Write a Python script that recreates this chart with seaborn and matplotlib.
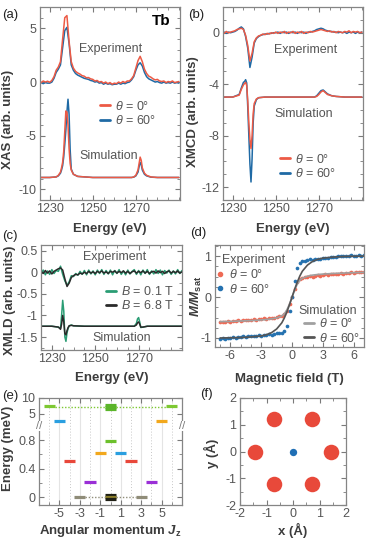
import numpy as np
import matplotlib
matplotlib.use('Agg')
import matplotlib.pyplot as plt
import matplotlib.transforms as mtransforms
from matplotlib.lines import Line2D
from matplotlib.ticker import MultipleLocator, FixedLocator
import seaborn as sns

# ── data ─────────────────────────────────────────────────────────────────────

energy = list(range(1225, 1291))          # measured energy grid (eV)

xas_exp_0 = [0.05, -0.05, 0.1, 0.0, 0.08, -0.02, 0.15, 0.5, 1.1, 1.4, 1.9, 4.0, 6.0, 6.2, 3.8, 1.9,
             1.3, 1.0, 0.85, 0.75, 0.6, 0.55, 0.4, 0.42, 0.3, 0.25, 0.1, 0.15, 0.0, 0.05, -0.1, 0.0,
             -0.15, -0.05, -0.2, -0.1, -0.15, 0.0, -0.1, 0.05, -0.05, 0.1, 0.1, 0.3, 0.6, 1.3, 2.0, 2.4,
             1.9, 1.2, 0.8, 0.55, 0.45, 0.3, 0.2, 0.25, 0.1, 0.05, 0.1, -0.05, 0.05, 0.0, 0.1, -0.05,
             0.0, 0.05]
xas_exp_60 = [-0.1, -0.05, -0.15, -0.05, -0.1, -0.1, 0.0, 0.35, 0.9, 1.2, 1.6, 3.2, 4.8, 5.1, 3.6, 1.6,
              1.1, 0.8, 0.65, 0.55, 0.45, 0.35, 0.3, 0.25, 0.15, 0.1, 0.0, 0.05, -0.1, -0.05, -0.2, -0.1,
              -0.2, -0.15, -0.25, -0.2, -0.2, -0.1, -0.2, -0.1, -0.15, -0.05, 0.0, 0.2, 0.5, 1.1, 1.6, 1.8,
              1.5, 0.9, 0.5, 0.3, 0.2, 0.1, 0.0, 0.05, -0.05, -0.1, 0.0, -0.1, -0.05, -0.1, 0.0, -0.1,
              -0.05, -0.1]
xas_sim_e = [1225, 1230, 1233, 1234, 1235, 1235.5, 1236, 1236.5, 1237, 1237.5, 1238, 1238.5, 1239,
             1239.5, 1240, 1241, 1243, 1250, 1260, 1268, 1269, 1270, 1271, 1271.5, 1272, 1272.5,
             1273, 1274, 1275, 1277, 1280, 1290]
xas_sim_0 = [-8.9, -8.9, -8.85, -8.7, -8.4, -8.0, -7.5, -6.5, -4.6, -2.7, -2.8, -4.0, -6.2, -7.6, -8.2,
             -8.6, -8.8, -8.9, -8.9, -8.9, -8.85, -8.7, -8.2, -7.6, -7.0, -7.3, -8.0, -8.5, -8.7, -8.85,
             -8.9, -8.9]
xas_sim_60 = [-8.9, -8.9, -8.85, -8.75, -8.5, -8.2, -7.8, -7.0, -5.8, -4.5, -2.8, -1.6, -3.0, -6.3,
              -8.1, -8.6, -8.8, -8.9, -8.9, -8.9, -8.87, -8.75, -8.4, -7.9, -7.5, -7.7, -8.2, -8.6,
              -8.75, -8.87, -8.9, -8.9]

xmcd_exp_0 = [0.05, -0.05, 0.1, 0.0, 0.05, 0.1, 0.15, 0.25, 0.3, 0.35, 0.25, -0.2, -1.0, -2.2, -1.6, -0.7,
              -0.4, -0.25, -0.2, -0.1, -0.15, -0.05, -0.1, 0.0, -0.05, 0.05, -0.05, 0.05, 0.0, 0.1, -0.05,
              0.05, 0.0, 0.1, -0.05, 0.05, 0.0, 0.1, -0.05, 0.05, 0.0, 0.1, 0.05, 0.1, 0.15, 0.2, 0.25,
              0.2, 0.15, 0.1, 0.15, 0.05, 0.1, 0.0, 0.1, 0.05, 0.0, 0.1, 0.05, 0.15, 0.0, 0.1, 0.05, 0.1,
              0.0, 0.05]
xmcd_exp_60 = [0.0, 0.05, -0.05, 0.05, 0.0, 0.05, 0.1, 0.2, 0.35, 0.45, 0.3, -0.3, -1.2, -2.7, -1.9, -0.8,
               -0.45, -0.3, -0.2, -0.15, -0.1, -0.1, -0.05, -0.05, 0.0, 0.0, 0.05, -0.05, 0.05, 0.0, 0.05,
               -0.05, 0.05, 0.0, 0.05, -0.05, 0.05, 0.0, 0.05, -0.05, 0.05, 0.05, 0.1, 0.15, 0.25, 0.3,
               0.35, 0.3, 0.2, 0.15, 0.1, 0.1, 0.05, 0.05, 0.0, 0.05, 0.0, 0.05, -0.05, 0.05, 0.0, 0.05,
               -0.05, 0.05, 0.0, 0.05]
xmcd_sim_e = [1225, 1230, 1233, 1234, 1235, 1235.5, 1236, 1236.5, 1237, 1237.5, 1238, 1238.5, 1239,
              1239.5, 1240, 1241, 1242, 1245, 1260, 1268, 1269, 1270, 1271, 1272, 1273, 1274, 1276,
              1278, 1282, 1290]
xmcd_sim_0 = [-5.0, -5.0, -4.85, -4.4, -4.05, -3.95, -3.85, -4.1, -5.3, -7.0, -8.3, -9.0, -8.0, -6.3,
              -5.5, -5.15, -5.05, -5.0, -5.0, -5.0, -4.95, -4.8, -4.6, -4.5, -4.65, -4.8, -4.9, -4.95,
              -5.0, -5.0]
xmcd_sim_60 = [-5.0, -5.0, -4.8, -4.3, -3.85, -3.8, -3.65, -3.9, -5.8, -8.0, -10.2, -11.6, -9.8, -7.0,
               -5.7, -5.2, -5.05, -5.0, -5.0, -5.0, -4.9, -4.7, -4.5, -4.45, -4.6, -4.75, -4.9, -4.95,
               -5.0, -5.0]

xmld_exp_01 = [-0.04, 0.05, -0.06, 0.03, -0.05, 0.06, -0.03, 0.04, 0.02, 0.14, -0.05, -0.2, -0.3, -0.22,
               -0.08, -0.1, -0.03, -0.07, 0.02, -0.05, 0.04, -0.06, 0.05, -0.04, 0.03, -0.06, 0.05, -0.03,
               0.06, -0.05, 0.04, -0.04, 0.05, -0.06, 0.04, -0.03, 0.06, -0.05, 0.03, -0.06, 0.05, -0.04,
               0.02, 0.06, -0.05, 0.04, -0.06, 0.05, -0.03, 0.06, -0.05, 0.03, -0.04, 0.06, -0.03, 0.05,
               -0.06, 0.04, -0.02, 0.05, -0.05, 0.03, -0.04, 0.06, -0.03, 0.04]
xmld_exp_68 = [0.02, -0.03, 0.04, -0.02, 0.03, -0.04, 0.02, 0.05, 0.08, 0.1, 0.05, -0.15, -0.33, -0.25,
               -0.12, -0.08, -0.05, -0.06, -0.02, -0.04, 0.0, -0.03, 0.02, -0.02, 0.01, -0.03, 0.02, -0.01,
               0.03, -0.02, 0.01, -0.03, 0.02, 0.0, 0.03, -0.02, 0.02, -0.01, 0.03, -0.02, 0.02, -0.03,
               0.01, 0.03, -0.02, 0.02, -0.01, 0.03, -0.02, 0.02, -0.03, 0.01, 0.02, -0.02, 0.03, -0.01,
               0.02, -0.03, 0.01, 0.03, -0.02, 0.02, -0.01, 0.03, -0.02, 0.01]
xmld_sim_e = [1225, 1230, 1233, 1234, 1234.5, 1235, 1235.5, 1236, 1236.5, 1237, 1237.5, 1238, 1239,
              1240, 1245, 1260, 1268, 1269, 1269.5, 1270, 1270.5, 1271, 1272, 1274, 1280, 1290]
xmld_sim_01 = [-1.25, -1.25, -1.27, -1.3, -1.0, -0.65, -0.9, -1.5, -1.6, -1.4, -1.3, -1.24, -1.22, -1.24,
               -1.25, -1.25, -1.25, -1.18, -1.08, -1.05, -1.15, -1.28, -1.27, -1.25, -1.25, -1.25]
xmld_sim_68 = [-1.25, -1.25, -1.27, -1.32, -1.2, -1.0, -1.15, -1.42, -1.45, -1.35, -1.28, -1.24, -1.23,
               -1.24, -1.25, -1.25, -1.25, -1.22, -1.17, -1.15, -1.2, -1.27, -1.27, -1.25, -1.25, -1.25]

field = [-7, -6.75, -6.5, -6.25, -6, -5.75, -5.5, -5.25, -5, -4.75, -4.5, -4.25, -4, -3.75, -3.5, -3.25,
         -3, -2.75, -2.5, -2.25, -2, -1.75, -1.5, -1.25, -1, -0.75, -0.5, -0.25, 0, 0.25, 0.5, 0.75, 1,
         1.25, 1.5, 1.75, 2, 2.25, 2.5, 2.75, 3, 3.25, 3.5, 3.75, 4, 4.25, 4.5, 4.75, 5, 5.25, 5.5, 5.75,
         6, 6.25, 6.5, 6.75, 7]
m_exp_0 = [-0.62, -0.60, -0.61, -0.59, -0.60, -0.58, -0.59, -0.57, -0.58, -0.56, -0.57, -0.55, -0.56,
           -0.54, -0.55, -0.53, -0.54, -0.52, -0.53, -0.51, -0.52, -0.50, -0.49, -0.47, -0.46, -0.42,
           -0.33, -0.18, 0.0, 0.2, 0.36, 0.43, 0.46, 0.48, 0.49, 0.51, 0.50, 0.52, 0.53, 0.52, 0.54,
           0.55, 0.54, 0.56, 0.55, 0.57, 0.56, 0.58, 0.57, 0.59, 0.58, 0.60, 0.59, 0.61, 0.60, 0.61, 0.60]
m_exp_60 = [-1.03, -1.0, -1.02, -0.99, -1.0, -0.98, -1.0, -0.97, -0.98, -0.96, -0.97, -0.95, -0.96,
            -0.94, -0.95, -0.93, -0.94, -0.92, -0.93, -0.91, -0.92, -0.90, -0.89, -0.88, -0.87, -0.84,
            -0.70, -0.35, 0.0, 0.4, 0.72, 0.84, 0.87, 0.89, 0.90, 0.92, 0.91, 0.93, 0.94, 0.93, 0.95,
            0.96, 0.95, 0.97, 0.98, 0.97, 0.99, 1.0, 0.99, 1.01, 1.0, 1.02, 1.0, 1.01, 1.03, 1.01, 1.02]
field_sim = [-7, -6, -5, -4, -3, -2.5, -2, -1.5, -1, -0.75, -0.5, -0.25, 0, 0.25, 0.5, 0.75, 1, 1.5, 2,
             2.5, 3, 4, 5, 6, 7]
m_sim_0 = [-0.60, -0.595, -0.585, -0.575, -0.56, -0.55, -0.535, -0.51, -0.46, -0.41, -0.31, -0.17, 0.0,
           0.17, 0.31, 0.41, 0.46, 0.51, 0.535, 0.55, 0.56, 0.575, 0.585, 0.595, 0.60]
m_sim_60 = [-1.0, -0.995, -0.99, -0.975, -0.95, -0.92, -0.87, -0.78, -0.63, -0.51, -0.36, -0.19, 0.0,
            0.19, 0.36, 0.51, 0.63, 0.78, 0.87, 0.92, 0.95, 0.975, 0.99, 0.995, 1.0]

# crystal-field levels: Jz, energy (meV), colour
level_jz = [-6, 6, 0, 0, 0, -5, 5, 0, -1, 1, -4, 2, -2, 4, -3, 3, 0, 0, 0]
level_e = [7.3, 7.3, 7.6, 7.0, 6.4, 2.6, 2.6, 0.79, 0.62, 0.62, 0.51, 0.51, 0.21, 0.21, 0.0, 0.0,
           0.025, 0.0, -0.025]
level_col = ['#7dc832', '#7dc832', '#5bb52a', '#5bb52a', '#5bb52a', '#2a9fe0', '#f2a81d', '#6cc02c',
             '#f2a81d', '#2a9fe0', '#e8473a', '#e8473a', '#9a2fd6', '#9a2fd6', '#8f8c78', '#8f8c78',
             '#1e1e14', '#8a7d2a', '#1e1e14']
link_from = [-5.45, 0.55, -2.45, 0.55]
link_to = [-0.55, 5.45, -0.55, 2.45]
link_e = [7.0, 7.0, 0.0, 0.0]
link_col = ['#7dc832', '#7dc832', '#8f8c78', '#8f8c78']

# ligand positions around Tb (Å)
lig_x = [-0.7, 0.7, -1.42, 1.42, -0.7, 0.7]
lig_y = [1.22, 1.22, 0.0, 0.0, -1.22, -1.22]
tb_x = [0.0]
tb_y = [0.0]

# ── style ────────────────────────────────────────────────────────────────────

sns.set_theme(style='ticks')
plt.rcParams.update({
    'font.family': ['Liberation Sans', 'DejaVu Sans'],
    'mathtext.fontset': 'custom',
    'mathtext.rm': 'Liberation Sans',
    'mathtext.it': 'Liberation Sans:italic',
    'mathtext.bf': 'Liberation Sans:bold',
    'mathtext.bfit': 'Liberation Sans:italic:bold',
    'axes.linewidth': 0.9,
    'axes.unicode_minus': False,
})

RED = '#ec5a45'
BLUE = '#1f6aa5'
GREEN = '#2a9d74'
BLACK = '#2a2a2a'
TXT = '#555555'
LAB = '#3c3c3c'
FS = 9

W, H = 366, 538
fig = plt.figure(figsize=(W / 100, H / 100), dpi=100)


def rect(x0, y0, x1, y1):
    return [x0 / W, 1 - y1 / H, (x1 - x0) / W, (y1 - y0) / H]


def style(ax, xmaj, xmin, ymaj, ymin):
    ax.tick_params(which='both', direction='in', top=True, right=True, colors='#7a7a7a',
                   labelcolor=TXT, labelsize=FS, pad=2.5)
    ax.tick_params(which='major', length=3.5, width=0.8)
    ax.tick_params(which='minor', length=2, width=0.6)
    for s in ax.spines.values():
        s.set_color('#858585')
    if xmaj:
        ax.xaxis.set_major_locator(MultipleLocator(xmaj))
        ax.xaxis.set_minor_locator(MultipleLocator(xmin))
    if ymaj:
        ax.yaxis.set_major_locator(MultipleLocator(ymaj))
        ax.yaxis.set_minor_locator(MultipleLocator(ymin))


def labels(ax, xl, yl, xc, yc):
    ax.set_xlabel(xl, fontsize=FS + 0.5, fontweight='bold', color=LAB)
    ax.set_ylabel(yl, fontsize=FS + 0.5, fontweight='bold', color=LAB)
    ax.xaxis.set_label_coords(0.5, xc)
    ax.yaxis.set_label_coords(yc[0], yc[1])


def line_legend(ax, cols, labs, anchor):
    hs = [Line2D([], [], color=c, lw=2) for c in cols]
    leg = ax.legend(hs, labs, loc='upper left', bbox_to_anchor=anchor, frameon=False, fontsize=FS,
                    handlelength=0.8, handletextpad=0.4, labelspacing=0.1, borderpad=0, borderaxespad=0)
    for t in leg.get_texts():
        t.set_color(TXT)
    return leg


def note(ax, x, y, s):
    ax.text(x, y, s, fontsize=FS, color=TXT, ha='center', va='center')


# ── (a) XAS ──────────────────────────────────────────────────────────────────
ax = fig.add_axes(rect(40, 7, 180, 200))
sns.lineplot(x=energy, y=xas_exp_60, ax=ax, color=BLUE, lw=1.1)
sns.lineplot(x=energy, y=xas_exp_0, ax=ax, color=RED, lw=1.1)
sns.lineplot(x=xas_sim_e, y=xas_sim_60, ax=ax, color=BLUE, lw=1.1)
sns.lineplot(x=xas_sim_e, y=xas_sim_0, ax=ax, color=RED, lw=1.1)
ax.set_xlim(1225.5, 1290.5)
ax.set_ylim(-11, 7)
style(ax, 20, 5, 5, 1)
ax.set_xticks([1230, 1250, 1270])
labels(ax, 'Energy (eV)', 'XAS (arb. units)', -0.12, (-0.185, 0.42))
note(ax, 1258.5, 3.1, 'Experiment')
note(ax, 1257.5, -6.9, 'Simulation')
ax.text(0.93, 0.93, 'Tb', transform=ax.transAxes, fontsize=FS + 2, fontweight='bold', ha='right',
        va='center', color='black')
line_legend(ax, [RED, BLUE], [r'$\theta$ = 0°', r'$\theta$ = 60°'], (0.43, 0.52))

# ── (b) XMCD ─────────────────────────────────────────────────────────────────
ax = fig.add_axes(rect(223, 7, 363, 200))
sns.lineplot(x=energy, y=xmcd_exp_60, ax=ax, color=BLUE, lw=1.1)
sns.lineplot(x=energy, y=xmcd_exp_0, ax=ax, color=RED, lw=1.1)
sns.lineplot(x=xmcd_sim_e, y=xmcd_sim_60, ax=ax, color=BLUE, lw=1.1)
sns.lineplot(x=xmcd_sim_e, y=xmcd_sim_0, ax=ax, color=RED, lw=1.1)
ax.set_xlim(1225.5, 1290.5)
ax.set_ylim(-13, 2)
style(ax, 20, 5, 4, 1)
ax.set_xticks([1230, 1250, 1270])
labels(ax, 'Energy (eV)', 'XMCD (arb. units)', -0.12, (-0.17, 0.46))
note(ax, 1264, -1.35, 'Experiment')
note(ax, 1263, -6.3, 'Simulation')
line_legend(ax, [RED, BLUE], [r'$\theta$ = 0°', r'$\theta$ = 60°'], (0.41, 0.245))

# ── (c) XMLD ─────────────────────────────────────────────────────────────────
ax = fig.add_axes(rect(41, 245, 182, 350))
sns.lineplot(x=energy, y=xmld_exp_01, ax=ax, color=GREEN, lw=1.1)
sns.lineplot(x=energy, y=xmld_exp_68, ax=ax, color=BLACK, lw=1.1)
sns.lineplot(x=xmld_sim_e, y=xmld_sim_01, ax=ax, color=GREEN, lw=1.1)
sns.lineplot(x=xmld_sim_e, y=xmld_sim_68, ax=ax, color=BLACK, lw=1.1)
ax.set_xlim(1225, 1290)
ax.set_ylim(-1.8, 0.63)
style(ax, 20, 5, 0.5, 0.25)
ax.set_xticks([1230, 1250, 1270])
ax.set_yticks([0.5, 0, -0.5, -1, -1.5], ['0.5', '0', '-0.5', '-1', '-1.5'])
labels(ax, 'Energy (eV)', 'XMLD (arb. units)', -0.21, (-0.177, 0.47))
note(ax, 1259, 0.35, 'Experiment')
note(ax, 1262, -1.53, 'Simulation')
line_legend(ax, [GREEN, BLACK], [r'$B$ = 0.1 T', r'$B$ = 6.8 T'], (0.46, 0.62))

# ── (d) magnetisation ────────────────────────────────────────────────────────
ax = fig.add_axes(rect(215, 245, 364, 347))
sns.lineplot(x=field_sim, y=m_sim_0, ax=ax, color='#a0a0a0', lw=1.2)
sns.lineplot(x=field_sim, y=m_sim_60, ax=ax, color='#555555', lw=1.2)
sns.scatterplot(x=field, y=m_exp_0, ax=ax, color='#ee6a55', s=7, linewidth=0, zorder=1)
sns.scatterplot(x=field, y=m_exp_60, ax=ax, color='#2572b0', s=7, linewidth=0, zorder=1)
ax.set_xlim(-7.5, 7)
ax.set_ylim(-1.22, 1.27)
style(ax, 3, 1, 1, 0.25)
labels(ax, 'Magnetic field (T)', r'$\mathbfit{M/M}_{\mathbf{sat}}$', -0.255, (-0.075, 0.5))
note(ax, -3.7, 0.9, 'Experiment')
hs = [Line2D([], [], ls='', marker='o', ms=3, color=c) for c in ['#ee6a55', '#2572b0']]
leg1 = ax.legend(hs, [r'$\theta$ = 0°', r'$\theta$ = 60°'], loc='upper left', bbox_to_anchor=(0.0, 0.77),
                 frameon=False, fontsize=FS, handlelength=0.8, handletextpad=0.3, labelspacing=0.1,
                 borderpad=0, borderaxespad=0)
for t in leg1.get_texts():
    t.set_color(TXT)
ax.add_artist(leg1)
note(ax, 3.5, -0.35, 'Simulation')
line_legend(ax, ['#a0a0a0', '#555555'], [r'$\theta$ = 0°', r'$\theta$ = 60°'], (0.6, 0.29))

# ── (e) crystal-field levels ─────────────────────────────────────────────────
K = 3.1 / 71


def fwd(y):
    y = np.asarray(y, dtype=float)
    return np.where(y <= 1, y, 1 + (y - 1) * K)


def inv(u):
    u = np.asarray(u, dtype=float)
    return np.where(u <= 1, u, 1 + (u - 1) / K)


ax = fig.add_axes(rect(39, 398, 182, 505))
ax.set_yscale('function', functions=(fwd, inv))
ax.set_xlim(-7, 7)
ax.set_ylim(-0.11, 10)
style(ax, 2, 1, None, None)
ax.xaxis.set_major_locator(FixedLocator([-5, -3, -1, 1, 3, 5]))
ax.xaxis.set_minor_locator(MultipleLocator(1))
ax.yaxis.set_major_locator(FixedLocator([0, 0.4, 0.8, 5, 10]))
ax.yaxis.set_minor_locator(FixedLocator([0.2, 0.6]))
ax.set_yticklabels(['0', '0.4', '0.8', '5', '10'])
ax.grid(which='major', axis='x', color='#e4e4e4', lw=0.8)
ax.grid(which='minor', axis='x', color='#c8c8c8', lw=0.7, ls=(0, (1, 2)))
for a, b, e, c in zip(link_from, link_to, link_e, link_col):
    ax.plot([a, b], [e, e], color=c, lw=1.0, ls=(0, (1, 1.3)), zorder=2)
for j, e, c in zip(level_jz, level_e, level_col):
    ax.plot([j - 0.55, j + 0.55], [e, e], color=c, lw=2.3, solid_capstyle='butt', zorder=3)
blend = mtransforms.blended_transform_factory(ax.transAxes, ax.transData)
for xa in (0, 1):
    ax.text(xa, 1.0, '//', transform=blend, fontsize=8, color='#777777', ha='center', va='center',
            bbox=dict(fc='white', ec='none', pad=0.2), zorder=5, clip_on=False)
labels(ax, r'Angular momentum $\mathbfit{J}_{\mathbf{z}}$', 'Energy (meV)', -0.17, (-0.175, 0.53))

# ── (f) geometry ─────────────────────────────────────────────────────────────
ax = fig.add_axes(rect(240, 398, 346, 505))
sns.scatterplot(x=lig_x, y=lig_y, ax=ax, color='#e8493a', s=125, linewidth=0)
sns.scatterplot(x=tb_x, y=tb_y, ax=ax, color='#1f6fb5', s=28, linewidth=0)
ax.set_xlim(-2, 2)
ax.set_ylim(-2, 2)
style(ax, 1, 0.5, 1, 0.5)
labels(ax, 'x (Å)', 'y (Å)', -0.17, (-0.2, 0.48))

# ── panel letters ────────────────────────────────────────────────────────────
for s, x, y in [('(a)', 2, 15), ('(b)', 188, 15), ('(c)', 2, 236), ('(d)', 190, 233),
                ('(e)', 2, 396), ('(f)', 200, 394)]:
    fig.text(x / W, 1 - y / H, s, fontsize=FS + 0.5, color='#222222', ha='left', va='center')

fig.savefig('out.png', dpi=100)
